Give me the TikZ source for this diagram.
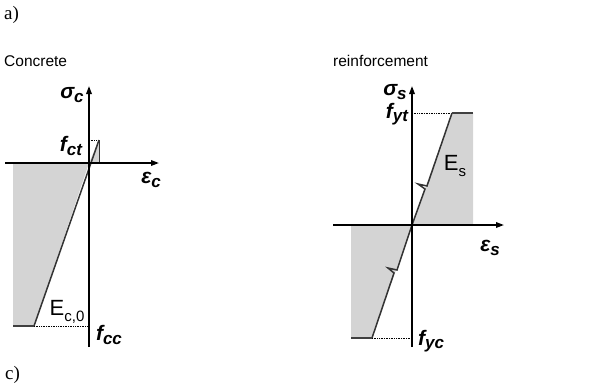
\documentclass[tikz,border=0pt]{standalone}
\usepackage{fontspec}
\setmainfont{Liberation Serif}
\setsansfont{Liberation Sans}
\usetikzlibrary{arrows.meta}
\tikzset{
	axis/.style={line width=1.6pt, -{Triangle[length=8pt, width=5.5pt]}},
	law/.style={line width=1.5pt, draw=black!80},
	plateau/.style={line width=2.2pt, draw=black!75},
	guide/.style={densely dotted, line width=0.7pt},
	zone/.style={fill=black!17},
	caption/.style={font=\sffamily\fontsize{15.5}{18}\selectfont, anchor=west, inner sep=0pt},
	tag/.style={font=\rmfamily\fontsize{19}{22}\selectfont, anchor=west, inner sep=0pt},
	sym/.style={font=\sffamily\bfseries\itshape\fontsize{21}{23}\selectfont, inner sep=0pt},
	modul/.style={font=\sffamily\fontsize{22}{24}\selectfont, inner sep=0pt}
}
\newcommand{\lowsub}[1]{\raisebox{-0.3ex}{\fontsize{17}{17}\selectfont #1}}
\newcommand{\modsub}[1]{\raisebox{-0.45ex}{\fontsize{15}{15}\selectfont #1}}

\begin{document}
\begin{tikzpicture}[x=1pt, y=-1pt]
	\useasboundingbox (0,0) rectangle (599,383);

	\node[tag] (taga) at (4,15) {a)};
	\node[caption] (capc) at (4,61) {Concrete};
	\node[caption] (caps) at (333,61) {reinforcement};
	\node[tag] (tagc) at (5,375) {c)};

	% concrete
	\coordinate (oc) at (89,163);
	\coordinate (ctop) at (89,86);
	\coordinate (cbot) at (89,347);
	\coordinate (cleft) at (5,163);
	\coordinate (cright) at (159,163);
	\coordinate (ctpeak) at (99,140);
	\coordinate (ctfoot) at (99,163);
	\coordinate (ctaxis) at (89,140);
	\coordinate (ccend) at (34,326);
	\coordinate (ccleft) at (13,326);
	\coordinate (ccaxis) at (89,326);
	\coordinate (czero) at (13,163);

	\fill[zone] (czero) -- (oc) -- (ccend) -- (ccleft) -- cycle;
	\fill[zone] (oc) -- (ctpeak) -- (ctfoot) -- cycle;
	\draw[guide] (ctaxis) -- (ctpeak);
	\draw[guide] (ccend) -- (ccaxis);
	\draw[line width=1pt, draw=black!80] (ctpeak) -- (ctfoot);
	\draw[law] (ccend) -- (ctpeak);
	\draw[plateau] (ccleft) -- (ccend);
	\draw[axis] (cbot) -- (ctop);
	\draw[axis] (cleft) -- (cright);

	\node[sym] (sigc) at (72,95) {σ\lowsub{c}};
	\node[sym] (fct) at (71,146) {f\lowsub{ct}};
	\node[sym] (epsc) at (151,180) {ε\lowsub{c}};
	\node[modul] (ec) at (67,312) {E\modsub{c,0}};
	\node[sym] (fcc) at (109,335) {f\lowsub{cc}};

	% reinforcement
	\coordinate (os) at (412,225);
	\coordinate (stop) at (412,86);
	\coordinate (sbot) at (412,347);
	\coordinate (sleft) at (333,225);
	\coordinate (sright) at (504,225);
	\coordinate (ytend) at (452,113);
	\coordinate (ytright) at (473,113);
	\coordinate (ytaxis) at (412,113);
	\coordinate (ytzero) at (473,225);
	\coordinate (ycend) at (372,338);
	\coordinate (ycleft) at (351,338);
	\coordinate (ycaxis) at (412,338);
	\coordinate (yczero) at (351,225);
	\coordinate (zigt) at (425,189);
	\coordinate (zigc) at (394,273);

	\fill[zone] (os) -- (ytend) -- (ytright) -- (ytzero) -- cycle;
	\fill[zone] (yczero) -- (os) -- (ycend) -- (ycleft) -- cycle;
	\draw[guide] (ytaxis) -- (ytend);
	\draw[guide] (ycend) -- (ycaxis);
	\draw[law] (ycend) -- (zigc) -- ++(-6,-5) -- ++(9,2) -- (os)
		-- (zigt) -- ++(-7,-5) -- ++(9,2) -- (ytend);
	\draw[plateau] (ytend) -- (ytright);
	\draw[plateau] (ycleft) -- (ycend);
	\draw[axis] (sbot) -- (stop);
	\draw[axis] (sleft) -- (sright);

	\node[sym] (sigs) at (395,92) {σ\lowsub{s}};
	\node[sym] (fyt) at (397,114) {f\lowsub{yt}};
	\node[modul] (es) at (455,166) {E\modsub{s}};
	\node[sym] (epss) at (490,248) {ε\lowsub{s}};
	\node[sym] (fyc) at (431,341) {f\lowsub{yc}};
\end{tikzpicture}
\end{document}
